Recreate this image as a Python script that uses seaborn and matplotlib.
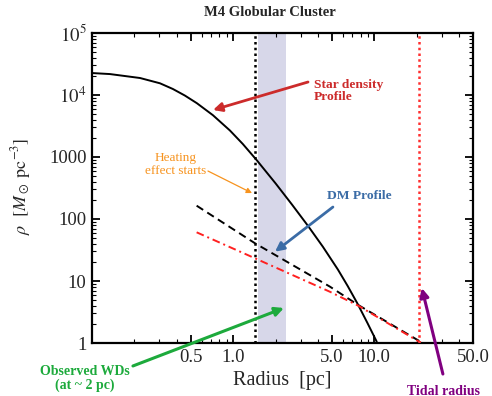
import numpy as np
import pandas as pd
import matplotlib
matplotlib.use("Agg")
import matplotlib.pyplot as plt
import seaborn as sns
from matplotlib.ticker import FixedLocator, FixedFormatter, LogLocator, NullFormatter

# ---- data ----
star_r = [0.1, 0.134, 0.219, 0.303, 0.374, 0.455, 0.553, 0.719, 0.948, 1.17, 1.47,
          2.0, 2.61, 3.39, 4.32, 5.52, 6.48, 7.61, 8.93, 10.4]
star_rho = [22600, 21760, 18790, 15450, 12500, 9795, 7380, 4720, 2680, 1622, 887,
            374, 171, 77.4, 35.7, 15.3, 8.28, 4.29, 2.11, 1.05]

dm_r = [0.551, 1.43, 4.85, 7.69, 22.0]
dm_rho = [164, 40.5, 8.1, 4.1, 1.0]

dm2_r = [0.551, 1.43, 4.85, 7.69, 21.5]
dm2_rho = [61, 23.2, 6.7, 4.0, 1.0]

heating_r = 1.43
wd_band = (1.5, 2.35)
tidal_r = 20.7

xticks = [0.5, 1.0, 5.0, 10.0, 50.0]
xticklabels = ["0.5", "1.0", "5.0", "10.0", "50.0"]
yticks = [1, 10, 100, 1000, 1e4, 1e5]
yticklabels = ["1", "10", "100", "1000", r"$10^4$", r"$10^5$"]

sns.set_theme(style="ticks")
plt.rcParams["font.family"] = ["Liberation Serif", "DejaVu Serif"]
plt.rcParams["mathtext.fontset"] = "stix"

fig = plt.figure(figsize=(4.92, 3.96), dpi=100)
ax = fig.add_axes([92/492, 53/396, 381/492, 310/396])

ax.axvspan(wd_band[0], wd_band[1], color="#d7d7e9", lw=0, zorder=0)

star = pd.DataFrame({"r": star_r, "rho": star_rho})
dm = pd.DataFrame({"r": dm_r, "rho": dm_rho})
dm2 = pd.DataFrame({"r": dm2_r, "rho": dm2_rho})

sns.lineplot(data=star, x="r", y="rho", color="black", lw=1.4, sort=False, estimator=None, ax=ax)
sns.lineplot(data=dm, x="r", y="rho", color="black", lw=1.4, ls=(0, (4, 2.5)), sort=False, estimator=None, ax=ax)
sns.lineplot(data=dm2, x="r", y="rho", color="#ff2020", lw=1.4, ls=(0, (4, 2, 1, 2)), sort=False, estimator=None, ax=ax)

ax.axvline(heating_r, color="black", lw=1.8, ls=(0, (1, 1.3)), zorder=3)
ax.axvline(tidal_r, color="#ff3030", lw=1.8, ls=(0, (1, 1.3)), zorder=3)

ax.set_xscale("log")
ax.set_yscale("log")
ax.set_xlim(0.1, 50)
ax.set_ylim(1, 1e5)

ax.xaxis.set_major_locator(FixedLocator(xticks))
ax.xaxis.set_major_formatter(FixedFormatter(xticklabels))
ax.xaxis.set_minor_locator(LogLocator(base=10, subs=np.arange(2, 10)))
ax.xaxis.set_minor_formatter(NullFormatter())
ax.yaxis.set_major_locator(FixedLocator(yticks))
ax.yaxis.set_major_formatter(FixedFormatter(yticklabels))
ax.yaxis.set_minor_locator(LogLocator(base=10, subs=np.arange(2, 10)))
ax.yaxis.set_minor_formatter(NullFormatter())

ax.tick_params(which="both", direction="in", top=True, right=True, color="black", labelsize=13.5)
ax.tick_params(which="major", length=6, width=1.3, pad=4)
ax.tick_params(which="minor", length=3, width=0.8)
for s in ax.spines.values():
    s.set_linewidth(1.6)
    s.set_color("black")

ax.set_xlabel("Radius  [pc]", fontsize=14.5, labelpad=4)
ax.set_ylabel(r"$\rho\ \ [M_\odot\ \mathrm{pc}^{-3}]$", fontsize=13)
ax.yaxis.set_label_coords(-0.155, 0.505)

fig.text(269.5/492, 1 - 12/396, "M4 Globular Cluster", ha="center", va="center",
         fontsize=10.5, fontweight="bold")

def arrow(tip, tail, color, lw, ms=13):
    ax.annotate("", xy=tip, xytext=tail, annotation_clip=False,
                arrowprops=dict(arrowstyle="-|>", color=color, lw=lw, mutation_scale=ms,
                                shrinkA=0, shrinkB=0))

red = "#cc2b2b"
blue = "#3b6ca6"
green = "#1daa3c"
purple = "#800080"
orange = "#f7931e"

ax.text(3.73, 11600, "Star density\nProfile", color=red, fontsize=9.7, fontweight="bold",
        ha="left", va="center", linespacing=1.05)
arrow((0.72, 5730), (3.39, 16200), red, 2.0)

ax.text(0.394, 750, "Heating\neffect starts", color=orange, fontsize=9.5,
        ha="center", va="center", linespacing=1.1)
arrow((1.36, 262), (0.663, 594), orange, 0.9, ms=8)

ax.text(7.78, 235, "DM Profile", color=blue, fontsize=9.7, fontweight="bold",
        ha="center", va="center")
arrow((1.98, 29.7), (5.09, 156), blue, 2.0)

ax.text(0.0892, 0.272, "Observed WDs\n(at ~ 2 pc)", color=green, fontsize=10, fontweight="bold",
        ha="center", va="center", linespacing=1.05, clip_on=False)
arrow((2.29, 3.67), (0.195, 0.426), green, 2.2)

ax.text(31.1, 0.168, "Tidal radius", color=purple, fontsize=10, fontweight="bold",
        ha="center", va="center", clip_on=False)
arrow((21.7, 7.7), (30.6, 0.316), purple, 2.2)

fig.savefig("out.png", dpi=100)
